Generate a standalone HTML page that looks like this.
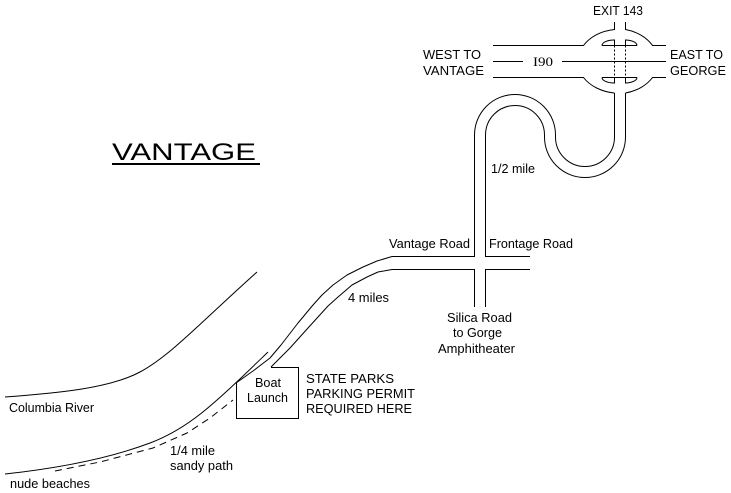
<!DOCTYPE html>
<html>
<head>
<meta charset="utf-8">
<style>
  html, body { margin:0; padding:0; background:#fff; }
  body { width:731px; height:493px; overflow:hidden; }
  svg { display:block; }
  text { font-family: "Liberation Sans", Arial, sans-serif; font-size:13px; fill:#000; }
</style>
</head>
<body>
<svg width="731" height="493" viewBox="0 0 731 493" xmlns="http://www.w3.org/2000/svg">
  <rect x="0" y="0" width="731" height="493" fill="#fff"/>
  <g fill="none" stroke="#000" stroke-width="1">
    <!-- I90 outer lines with interchange circle -->
    <path d="M493,45.5 H583.5 A42 32 0 0 1 614.5,29.5 V22"/>
    <path d="M625.5,22 V29.5 A42 32 0 0 1 652.5,45.5 H666"/>
    <path d="M493,77.5 H583.5 A42 32 0 0 0 614.5,93"/>
    <path d="M666,77.5 H652.5 A42 32 0 0 1 625.5,93"/>
    <!-- middle line -->
    <path d="M493,61.5 H523 M562,61.5 H666"/>
    <!-- inner lines -->
    <path d="M602,45.5 H637 M602,77.5 H637"/>
    <!-- inner caps -->
    <path d="M602,45.5 A12 5.5 0 0 1 614.5,40 V45.5"/>
    <path d="M637,45.5 A12 5.5 0 0 0 625.5,40 V45.5"/>
    <path d="M602,77.5 A12 5.5 0 0 0 614.5,83 V77.5"/>
    <path d="M637,77.5 A12 5.5 0 0 1 625.5,83 V77.5"/>
    <!-- dotted underpass -->
    <path d="M614.5,45.5 V77.5 M625.5,45.5 V77.5" stroke-dasharray="2,2"/>

    <!-- S-curve road, line B -->
    <path d="M614.5,93 V137 A29.5 29.5 0 0 1 555.5,137 V135 A40.5 40.5 0 0 0 474.5,135 V256.5 H392"/>
    <!-- S-curve road, line A -->
    <path d="M625.5,93 V137 A40.5 40.5 0 0 1 544.5,137 V135 A29.5 29.5 0 0 0 485.5,135 V256.5 H530"/>
    <!-- intersection lower -->
    <path d="M392,269.5 H474.5 V307"/>
    <path d="M530,269.5 H485.5 V307"/>

    <!-- Vantage road curve upper line -->
    <polyline stroke-linejoin="round" points="392,256.5 377,261 363,267 347,275 333,285 322,295 313,305 298,323 281,345 270,358 253,371 236,383"/>
    <!-- lower line -->
    <polyline stroke-linejoin="round" points="392,269.5 378,272 367,277 352,285 338,297 328,306 318,317 308,328 290,348 271,367"/>

    <!-- Boat launch box -->
    <path d="M271,367.5 H298.5 V418.5 H236.5 V383"/>

    <!-- river banks -->
    <path d="M5,397 C60,393 110,388 140,372 S200,323 257,272"/>
    <path d="M5,474 C60,468 110,458 150,443 S215,403 268,352"/>

    <!-- sandy path dashed -->
    <polyline stroke-dasharray="7,5" points="55,471 100,462 153,448 187,433 210,418 233,400"/>
  </g>

  <!-- Title -->
  <text x="112" y="160" style="font-size:24px" textLength="144" lengthAdjust="spacingAndGlyphs">VANTAGE</text>
  <rect x="112" y="163" width="148" height="2" fill="#000"/>

  <!-- Labels -->
  <text x="593" y="15" textLength="50" lengthAdjust="spacingAndGlyphs">EXIT 143</text>
  <text x="423" y="59" textLength="58" lengthAdjust="spacingAndGlyphs">WEST TO</text>
  <text x="423" y="75" textLength="61" lengthAdjust="spacingAndGlyphs">VANTAGE</text>
  <text x="670" y="59" textLength="53" lengthAdjust="spacingAndGlyphs">EAST TO</text>
  <text x="670" y="75" textLength="56" lengthAdjust="spacingAndGlyphs">GEORGE</text>
  <text x="533" y="66" style="font-family:'Liberation Serif',serif" textLength="20" lengthAdjust="spacingAndGlyphs">I90</text>
  <text x="491" y="173" textLength="44" lengthAdjust="spacingAndGlyphs">1/2 mile</text>
  <text x="389" y="248" textLength="81" lengthAdjust="spacingAndGlyphs">Vantage Road</text>
  <text x="489" y="248" textLength="84" lengthAdjust="spacingAndGlyphs">Frontage Road</text>
  <text x="348" y="302" textLength="41" lengthAdjust="spacingAndGlyphs">4 miles</text>
  <text x="447" y="322" textLength="65" lengthAdjust="spacingAndGlyphs">Silica Road</text>
  <text x="453" y="337" textLength="49" lengthAdjust="spacingAndGlyphs">to Gorge</text>
  <text x="438" y="353" textLength="77" lengthAdjust="spacingAndGlyphs">Amphitheater</text>
  <text x="255" y="387" textLength="26" lengthAdjust="spacingAndGlyphs">Boat</text>
  <text x="247" y="402" textLength="41" lengthAdjust="spacingAndGlyphs">Launch</text>
  <text x="306" y="383" textLength="88" lengthAdjust="spacingAndGlyphs">STATE PARKS</text>
  <text x="306" y="398" textLength="109" lengthAdjust="spacingAndGlyphs">PARKING PERMIT</text>
  <text x="306" y="413" textLength="106" lengthAdjust="spacingAndGlyphs">REQUIRED HERE</text>
  <text x="9" y="412" textLength="85" lengthAdjust="spacingAndGlyphs">Columbia River</text>
  <text x="170" y="455" textLength="45" lengthAdjust="spacingAndGlyphs">1/4 mile</text>
  <text x="170" y="470" textLength="63" lengthAdjust="spacingAndGlyphs">sandy path</text>
  <text x="10" y="488" textLength="80" lengthAdjust="spacingAndGlyphs">nude beaches</text>
</svg>
</body>
</html>
